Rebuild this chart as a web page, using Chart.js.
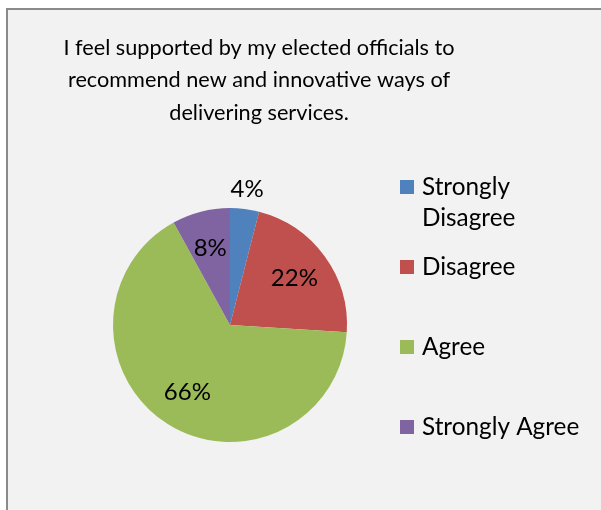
<!DOCTYPE html>
<html>
<head>
<meta charset="utf-8">
<script src="https://cdn.jsdelivr.net/npm/chart.js@4.4.1/dist/chart.umd.min.js"></script>
<style>
  html, body { margin: 0; padding: 0; background: #ffffff; }
  #wrap { width: 601px; height: 510px; }
</style>
</head>
<body>
<div id="wrap"><canvas id="chartSupport" width="601" height="510"></canvas></div>
<script>
    // Survey answers
    const titleLines = ['I feel supported by my elected officials to', 'recommend new and innovative ways of', 'delivering services.'];
    const answers = ['Strongly Disagree', 'Disagree', 'Agree', 'Strongly Agree'];
    const percents = [4, 22, 66, 8];
    const sliceColors = ['#4f81bd', '#c0504d', '#9bbb59', '#8064a2'];

    const FONT = 'Lato, "Open Sans", sans-serif';

    // Grey panel with the frame on the left and top
    const panelBackground = {
        id: 'panelBackground',
        beforeDraw(chart) {
            const ctx = chart.ctx;
            ctx.save();
            ctx.fillStyle = '#ffffff';
            ctx.fillRect(0, 0, chart.width, chart.height);
            ctx.fillStyle = '#f2f2f2';
            ctx.fillRect(7, 9, chart.width - 7, chart.height - 9);
            ctx.strokeStyle = '#8a8a8a';
            ctx.lineWidth = 2;
            ctx.beginPath();
            ctx.moveTo(7, chart.height);
            ctx.lineTo(7, 9);
            ctx.lineTo(chart.width, 9);
            ctx.stroke();
            ctx.restore();
        }
    };

    const titleText = {
        id: 'titleText',
        afterDraw(chart) {
            const ctx = chart.ctx;
            ctx.save();
            ctx.font = '21.7px ' + FONT;
            ctx.fillStyle = '#000000';
            ctx.textAlign = 'center';
            ctx.textBaseline = 'middle';
            titleLines.forEach((line, i) => ctx.fillText(line, 259, 48 + i * 32.5));
            ctx.restore();
        }
    };

    // Percent labels: inside the slice, small slices go outside
    const sliceLabels = {
        id: 'sliceLabels',
        afterDatasetsDraw(chart) {
            const ctx = chart.ctx;
            const meta = chart.getDatasetMeta(0);
            ctx.save();
            ctx.font = '24px ' + FONT;
            ctx.fillStyle = '#000000';
            ctx.textAlign = 'center';
            ctx.textBaseline = 'middle';
            meta.data.forEach((arc, i) => {
                const p = arc.getProps(['x', 'y', 'startAngle', 'endAngle', 'outerRadius'], true);
                const mid = (p.startAngle + p.endAngle) / 2;
                const r = percents[i] < 5 ? p.outerRadius + 20 : p.outerRadius * 0.68;
                ctx.fillText(percents[i] + '%', p.x + Math.cos(mid) * r, p.y + Math.sin(mid) * r);
            });
            ctx.restore();
        }
    };

    // Legend on the right, long labels wrap onto a second line
    const sideLegend = {
        id: 'sideLegend',
        afterDraw(chart) {
            const ctx = chart.ctx;
            ctx.save();
            ctx.font = '24.3px ' + FONT;
            ctx.textBaseline = 'middle';
            ctx.textAlign = 'left';
            answers.forEach((label, i) => {
                const y = 187 + i * 80;
                ctx.fillStyle = sliceColors[i];
                ctx.fillRect(400, y - 7, 14, 14);
                ctx.fillStyle = '#000000';
                const words = label.split(' ');
                let lines = [];
                let cur = '';
                words.forEach(w => {
                    const test = cur ? cur + ' ' + w : w;
                    if (cur && ctx.measureText(test).width > 168) {
                        lines.push(cur);
                        cur = w;
                    } else {
                        cur = test;
                    }
                });
                lines.push(cur);
                lines.forEach((ln, j) => ctx.fillText(ln, 422, y + j * 31));
            });
            ctx.restore();
        }
    };

    const ctxSupport = document.getElementById('chartSupport').getContext('2d');
    new Chart(ctxSupport, {
        type: 'pie',
        data: {
            labels: answers,
            datasets: [{
                data: percents,
                backgroundColor: sliceColors,
                borderWidth: 0
            }]
        },
        options: {
            responsive: false,
            animation: false,
            layout: { padding: { left: 113, right: 254, top: 208, bottom: 68 } },
            plugins: {
                legend: { display: false },
                title: { display: false },
                tooltip: { enabled: false }
            }
        },
        plugins: [panelBackground, titleText, sliceLabels, sideLegend]
    });
</script>
</body>
</html>
